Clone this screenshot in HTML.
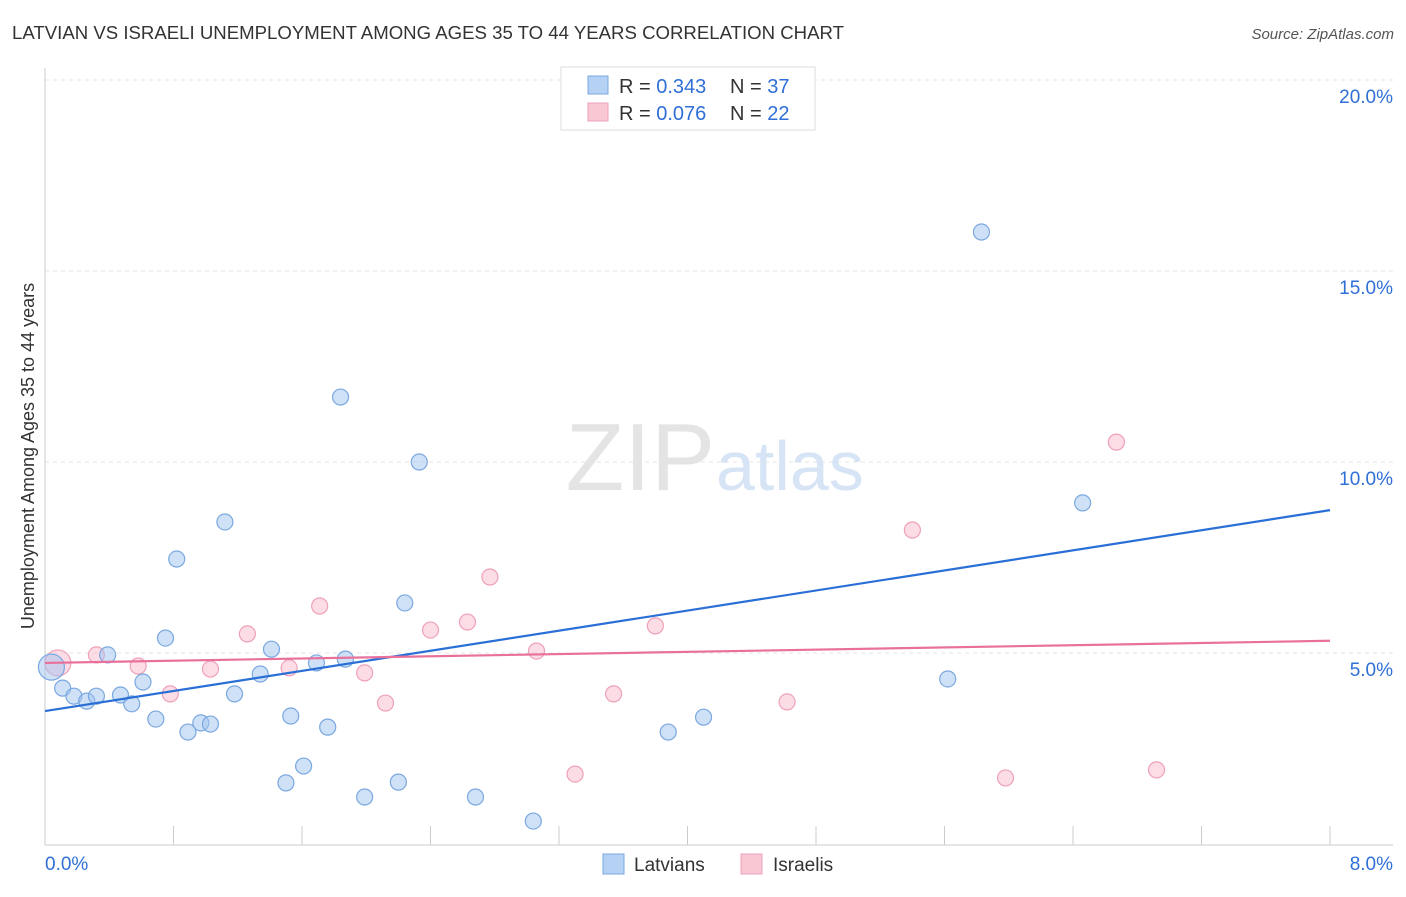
<!DOCTYPE html>
<html><head><meta charset="utf-8"><style>
body{margin:0;background:#fff;font-family:"Liberation Sans",sans-serif;}
svg text{font-family:"Liberation Sans",sans-serif;}
</style></head><body>
<svg id="chart" width="1406" height="892" xmlns="http://www.w3.org/2000/svg">
<text x="12" y="39" font-size="18" fill="#333" textLength="832" lengthAdjust="spacingAndGlyphs">LATVIAN VS ISRAELI UNEMPLOYMENT AMONG AGES 35 TO 44 YEARS CORRELATION CHART</text>
<text x="1394" y="39" font-size="15" fill="#555" text-anchor="end" font-style="italic">Source: ZipAtlas.com</text>
<g id="grid"></g>
<text x="715" y="490" font-size="96" fill="#e4e4e4" text-anchor="end" font-family="Liberation Serif">ZIP</text>
<text x="716" y="490" font-size="70" fill="#d6e4f5">atlas</text>
<g id="axes"></g>
<text transform="translate(34,456) rotate(-90)" font-size="18" fill="#333" text-anchor="middle">Unemployment Among Ages 35 to 44 years</text>
<g id="marks"></g>
<g>
<rect x="561" y="67" width="254" height="63" fill="#fff" stroke="#ddd"/>
<rect x="588" y="76" width="20" height="18" fill="#b5d2f5" stroke="#7aa8e0"/>
<text x="619" y="93" font-size="20" fill="#333">R = <tspan fill="#2f6fd6">0.343</tspan></text>
<text x="730" y="93" font-size="20" fill="#333">N = <tspan fill="#2f6fd6">37</tspan></text>
<rect x="588" y="103" width="20" height="18" fill="#f9c6d4" stroke="#eea0b8"/>
<text x="619" y="120" font-size="20" fill="#333">R = <tspan fill="#2f6fd6">0.076</tspan></text>
<text x="730" y="120" font-size="20" fill="#333">N = <tspan fill="#2f6fd6">22</tspan></text>
</g>
<g>
<rect x="603" y="854" width="21" height="20" fill="#b5d2f5" stroke="#7aa8e0"/>
<text x="634" y="871" font-size="19" fill="#333">Latvians</text>
<rect x="741" y="854" width="21" height="20" fill="#f9c6d4" stroke="#eea0b8"/>
<text x="773" y="871" font-size="19" fill="#333">Israelis</text>
</g>
</svg>
<script>
const latX=[0.04,0.11,0.18,0.26,0.32,0.39,0.47,0.54,0.61,0.69,0.75,0.82,0.89,0.97,1.03,1.12,1.18,1.34,1.41,1.50,1.53,1.61,1.69,1.76,1.84,1.87,1.99,2.20,2.24,2.33,2.68,3.04,3.88,4.10,5.62,5.83,6.46];
const latY=[4.63,4.08,3.87,3.74,3.87,4.95,3.90,3.67,4.24,3.27,5.39,7.46,2.93,3.17,3.14,8.43,3.93,4.45,5.10,1.60,3.35,2.04,4.74,3.06,11.70,4.84,1.23,1.62,6.31,10.00,1.23,0.60,2.93,3.32,4.32,16.02,8.93];
const isrX=[0.08,0.32,0.58,0.78,1.03,1.26,1.52,1.71,1.99,2.12,2.40,2.63,2.77,3.06,3.30,3.54,3.80,4.62,5.40,5.98,6.67,6.92];
const isrY=[4.74,4.95,4.66,3.93,4.58,5.50,4.61,6.23,4.48,3.69,5.60,5.81,6.99,5.05,1.83,3.93,5.71,3.72,8.22,1.73,10.52,1.94];
const latTrend=[3.48,8.74];
const isrTrend=[4.74,5.32];
const yTicks=[5,10,15,20];
const yTickLabels=["5.0%","10.0%","15.0%","20.0%"];
const xTicks=[0,0.8,1.6,2.4,3.2,4.0,4.8,5.6,6.4,7.2,8.0];
const NS="http://www.w3.org/2000/svg";
const sx=v=>45+v/8*1285, sy=v=>844-v/5*191;
function mk(t,a,p){const e=document.createElementNS(NS,t);for(const k in a)e.setAttribute(k,a[k]);p.appendChild(e);return e;}
const grid=document.getElementById('grid'),axes=document.getElementById('axes'),marks=document.getElementById('marks');
yTicks.forEach((v,i)=>{
 const l=mk('line',{x1:45,x2:1393,y1:sy(v),y2:sy(v),stroke:'#e6e6e6','stroke-dasharray':'4,4'},grid);
 
 
 const t=mk('text',{x:1393,y:sy(v)+23,'font-size':19,fill:'#2f6fd6','text-anchor':'end'},axes);
 t.textContent=yTickLabels[i];
 
 
});
mk('line',{x1:45,x2:45,y1:68,y2:845,stroke:'#ccc'},axes);
mk('line',{x1:45,x2:1393,y1:845,y2:845,stroke:'#ccc'},axes);
xTicks.forEach(v=>{const l=mk('line',{x1:sx(v),x2:sx(v),y1:826,y2:845,stroke:'#ccc'},axes);
 
 });
let t0=mk('text',{x:45,y:870,'font-size':19,fill:'#2f6fd6'},axes);t0.textContent='0.0%';


let t1=mk('text',{x:1393,y:870,'font-size':19,fill:'#2f6fd6','text-anchor':'end'},axes);t1.textContent='8.0%';


function pts(X,Y,fill,stroke,name){X.forEach((x,i)=>{const c=mk('circle',{cx:sx(x),cy:sy(Y[i]),r:i==0?13:8,fill:fill,stroke:stroke,'stroke-width':1.2},marks);
 
 });}
pts(isrX,isrY,'rgba(248,180,200,0.45)','#eea0b8','israeli-point');
pts(latX,latY,'rgba(160,196,240,0.5)','#7aa8e0','latvian-point');
let a=mk('line',{x1:sx(0),x2:sx(8),y1:sy(latTrend[0]),y2:sy(latTrend[1]),stroke:'#2a6fd6','stroke-width':2.2},marks);


let b=mk('line',{x1:sx(0),x2:sx(8),y1:sy(isrTrend[0]),y2:sy(isrTrend[1]),stroke:'#e8709a','stroke-width':2.2},marks);


</script>
</body></html>
